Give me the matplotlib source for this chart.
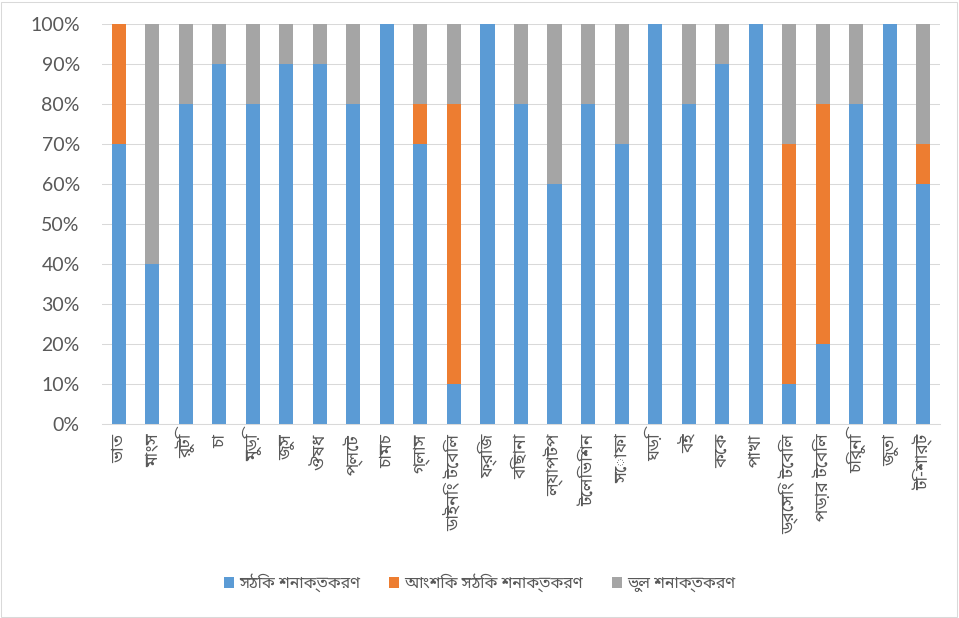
import matplotlib
matplotlib.use("Agg")
import matplotlib.pyplot as plt
import numpy as np
from matplotlib.patches import Rectangle

categories = ["ভাত", "মাংস", "রুটি", "চা", "মুড়ি", "জুস", "ঔষধ", "প্লেট", "চামচ",
              "গ্লাস", "ডাইনিং টেবিল", "ফ্রিজ", "বিছানা", "ল্যাপটপ", "টেলিভিশন",
              "সোফা", "ঘড়ি", "বই", "কেক", "পাখা", "ড্রেসিং টেবিল", "পড়ার টেবিল",
              "চিরুনি", "জুতা", "টি-শার্ট"]
correct = [70, 40, 80, 90, 80, 90, 90, 80, 100, 70, 10, 100, 80, 60, 80,
           70, 100, 80, 90, 100, 10, 20, 80, 100, 60]
partial = [30, 0, 0, 0, 0, 0, 0, 0, 0, 10, 70, 0, 0, 0, 0,
           0, 0, 0, 0, 0, 60, 60, 0, 0, 10]
wrong = [0, 60, 20, 10, 20, 10, 10, 20, 0, 20, 20, 0, 20, 40, 20,
         30, 0, 20, 10, 0, 30, 20, 20, 0, 30]
series_names = ["সঠিক শনাক্তকরণ", "আংশিক সঠিক শনাক্তকরণ", "ভুল শনাক্তকরণ"]
colors = ["#5B9BD5", "#ED7D31", "#A5A5A5"]
yticks = [0, 10, 20, 30, 40, 50, 60, 70, 80, 90, 100]

BN = ["Noto Sans Bengali", "DejaVu Sans"]
TXT = "#595959"
GRID = "#D9D9D9"

fig = plt.figure(figsize=(9.59, 6.18), dpi=100)
W, H = 959, 618
ax = fig.add_axes([102 / W, 1 - 424 / H, (940 - 102) / W, (424 - 24) / H])

x = np.arange(len(categories))
bottom = np.zeros(len(categories))
for vals, c, name in zip([correct, partial, wrong], colors, series_names):
    ax.bar(x, vals, width=0.42, bottom=bottom, color=c, label=name, zorder=2)
    bottom += np.array(vals)

ax.set_xlim(-0.5, len(categories) - 0.5)
ax.set_ylim(0, 100)
ax.set_yticks(yticks)
ax.set_yticklabels([f"{v}%" for v in yticks], fontsize=14, color=TXT, family="Lato")
ax.set_xticks(x)
ax.set_xticklabels(categories, rotation=90, fontsize=12.5, color=TXT, family=BN)
ax.tick_params(axis="x", length=0, pad=7)
ax.tick_params(axis="y", length=0, pad=16)
ax.grid(axis="y", color=GRID, linewidth=0.75, zorder=0)
ax.set_axisbelow(True)
for s in ["top", "right", "left"]:
    ax.spines[s].set_visible(False)
ax.spines["bottom"].set_color(GRID)
ax.spines["bottom"].set_linewidth(0.75)

handles, labels = ax.get_legend_handles_labels()
leg = fig.legend(handles, labels, loc="center", bbox_to_anchor=(0.5, 1 - 583 / H),
                 ncol=3, frameon=False, prop={"family": BN, "size": 11.5},
                 handlelength=0.65, handleheight=0.65, handletextpad=0.3,
                 columnspacing=1.8, labelcolor=TXT)

fig.patches.append(Rectangle((1 / W, 1 / H), 1 - 3 / W, 1 - 3 / H,
                             transform=fig.transFigure, fill=False,
                             edgecolor=GRID, linewidth=0.75))
fig.savefig("out.png", dpi=100)
